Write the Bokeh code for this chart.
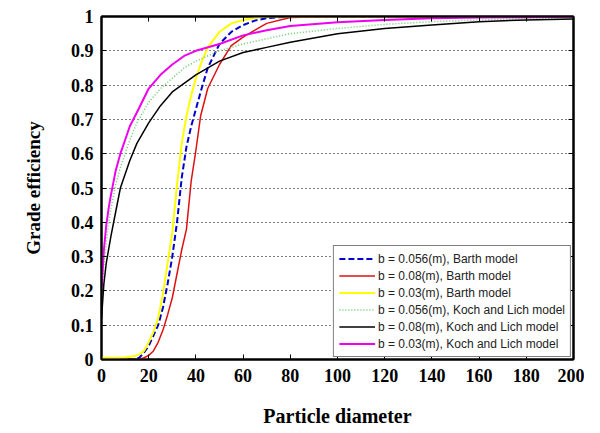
from bokeh.plotting import figure
from bokeh.models import FixedTicker, LinearAxis, Legend, LegendItem
from bokeh.embed import file_html
from bokeh.resources import INLINE

# Barth model data (particle diameter vs grade efficiency)
d_barth = [0, 5, 10, 14, 16, 18, 20, 22, 24, 26, 28, 30, 32, 34, 36, 38, 40, 42, 45, 50, 55, 60, 65, 70, 80, 100, 150, 200]
barth_056 = [0, 0, 0, 0, 0.005, 0.02, 0.04, 0.07, 0.1, 0.15, 0.22, 0.3, 0.4, 0.53, 0.62, 0.68, 0.73, 0.78, 0.85, 0.92, 0.955, 0.975, 0.988, 0.995, 1, 1, 1, 1]
barth_08 = [0, 0, 0, 0, 0, 0.005, 0.012, 0.025, 0.05, 0.085, 0.13, 0.18, 0.25, 0.32, 0.38, 0.52, 0.61, 0.71, 0.79, 0.86, 0.915, 0.94, 0.96, 0.98, 0.997, 1, 1, 1]
barth_03 = [0.005, 0.005, 0.006, 0.01, 0.015, 0.025, 0.05, 0.08, 0.12, 0.19, 0.28, 0.37, 0.51, 0.63, 0.71, 0.77, 0.82, 0.86, 0.91, 0.955, 0.98, 0.99, 0.996, 1, 1, 1, 1, 1]

# Koch and Lich model data
d_koch = [0, 1, 2, 3, 4, 6, 8, 10, 12, 15, 20, 25, 30, 35, 40, 50, 60, 70, 80, 100, 120, 140, 160, 180, 200]
koch_056 = [0.17, 0.27, 0.34, 0.4, 0.44, 0.51, 0.56, 0.6, 0.64, 0.69, 0.75, 0.79, 0.82, 0.85, 0.87, 0.9, 0.92, 0.935, 0.95, 0.965, 0.977, 0.985, 0.99, 0.994, 0.996]
koch_08 = [0.12, 0.22, 0.28, 0.32, 0.36, 0.43, 0.5, 0.54, 0.58, 0.63, 0.69, 0.74, 0.78, 0.805, 0.83, 0.87, 0.895, 0.91, 0.925, 0.95, 0.965, 0.975, 0.985, 0.99, 0.993]
koch_03 = [0.2, 0.32, 0.39, 0.44, 0.48, 0.55, 0.6, 0.64, 0.68, 0.72, 0.79, 0.83, 0.86, 0.885, 0.9, 0.92, 0.945, 0.96, 0.972, 0.983, 0.99, 0.995, 0.997, 0.998, 0.999]

x_ticks = [0, 20, 40, 60, 80, 100, 120, 140, 160, 180, 200]
y_ticks = [0, 0.1, 0.2, 0.3, 0.4, 0.5, 0.6, 0.7, 0.8, 0.9, 1]
y_tick_labels = ["0", "0.1", "0.2", "0.3", "0.4", "0.5", "0.6", "0.7", "0.8", "0.9", "1"]

labels = [
    "b = 0.056(m), Barth model",
    "b = 0.08(m), Barth model",
    "b = 0.03(m), Barth model",
    "b = 0.056(m), Koch and Lich model",
    "b = 0.08(m), Koch and Lich model",
    "b = 0.03(m), Koch and Lich model",
]

p = figure(frame_width=472, frame_height=343, x_range=(0, 200), y_range=(0, 1),
           output_backend="svg", toolbar_location=None,
           min_border_left=101, min_border_right=11, min_border_top=16, min_border_bottom=72)

p.background_fill_color = "white"
p.border_fill_color = "white"
p.outline_line_color = "black"
p.outline_line_width = 2

r1 = p.line(d_barth, barth_056, line_color="#0000cc", line_width=2, line_dash="6 3")
r2 = p.line(d_barth, barth_08, line_color="#dd1111", line_width=1.5)
r3 = p.line(d_barth, barth_03, line_color="#ffff00", line_width=2)
r4 = p.line(d_koch, koch_056, line_color="#66cc66", line_width=1.5, line_dash="1 2")
r5 = p.line(d_koch, koch_08, line_color="black", line_width=1.5)
r6 = p.line(d_koch, koch_03, line_color="#ee00ee", line_width=2)

tick_font = "Liberation Serif"

def style_axis(ax):
    ax.axis_line_color = "black"
    ax.axis_line_width = 2
    ax.major_tick_in = 5
    ax.major_tick_out = 0
    ax.major_tick_line_color = "black"
    ax.major_tick_line_width = 1
    ax.minor_tick_in = 5
    ax.minor_tick_out = 0
    ax.minor_tick_line_color = "black"
    ax.minor_tick_line_width = 1
    ax.major_label_text_font = tick_font
    ax.major_label_text_font_style = "bold"
    ax.major_label_text_font_size = "18px"
    ax.major_label_text_color = "black"
    ax.axis_label_text_font = tick_font
    ax.axis_label_text_font_style = "bold"
    ax.axis_label_text_color = "black"

xa = p.xaxis[0]
xa.ticker = FixedTicker(ticks=x_ticks)
xa.axis_label = "Particle diameter"
style_axis(xa)
xa.axis_label_text_font_size = "20px"
xa.major_label_standoff = 9
xa.axis_label_standoff = 20

ya = p.yaxis[0]
ya.ticker = FixedTicker(ticks=y_ticks)
ya.major_label_overrides = {t: l for t, l in zip(y_ticks, y_tick_labels)}
ya.axis_label = "Grade efficiency"
style_axis(ya)
ya.axis_label_text_font_size = "19px"
ya.major_label_standoff = 8
ya.axis_label_standoff = 24

# top and right axes carry only inward tick marks (as minor ticks, no labels)
top = LinearAxis(ticker=FixedTicker(ticks=[], minor_ticks=x_ticks))
style_axis(top)
p.add_layout(top, "above")

right = LinearAxis(ticker=FixedTicker(ticks=[], minor_ticks=y_ticks))
style_axis(right)
p.add_layout(right, "right")

p.xgrid.grid_line_color = None
p.ygrid.ticker = FixedTicker(ticks=[0.1, 0.2, 0.3, 0.4, 0.5, 0.6, 0.7, 0.8, 0.9])
p.ygrid.grid_line_color = "black"
p.ygrid.grid_line_dash = "1 3"
p.ygrid.grid_line_width = 1

legend = Legend(items=[LegendItem(label=l, renderers=[r]) for l, r in zip(labels, [r1, r2, r3, r4, r5, r6])],
                location="bottom_right")
legend.label_text_font = "Liberation Sans"
legend.label_text_font_size = "12px"
legend.label_text_color = "#222222"
legend.glyph_width = 36
legend.glyph_height = 15
legend.label_height = 15
legend.spacing = 2
legend.padding = 5
legend.margin = 2
legend.label_standoff = 3
legend.border_line_color = "black"
legend.border_line_width = 1
legend.background_fill_color = "white"
legend.background_fill_alpha = 1
p.add_layout(legend, "center")

open("out.html", "w").write(file_html(p, INLINE))
